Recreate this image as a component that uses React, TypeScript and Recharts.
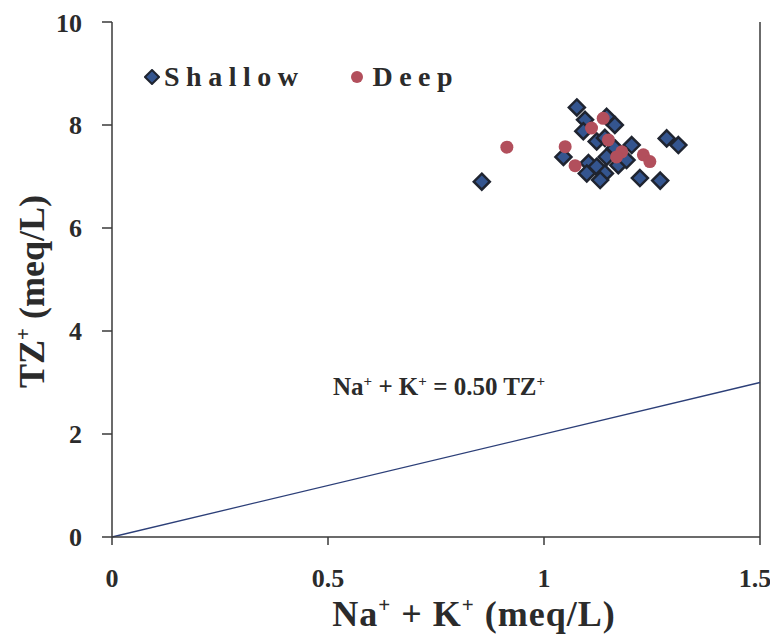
import {
  ScatterChart, Scatter, XAxis, YAxis, ReferenceLine,
} from 'recharts';

// Na+ + K+ (meq/L) vs TZ+ (meq/L)
const SHALLOW_X = [0.856, 1.076, 1.095, 1.091, 1.145, 1.164, 1.122, 1.141, 1.045, 1.164, 1.203, 1.284,
  1.311, 1.103, 1.122, 1.099, 1.141, 1.130, 1.145, 1.172, 1.191, 1.222, 1.269];
const SHALLOW_Y = [6.90, 8.34, 8.10, 7.88, 8.16, 8.00, 7.68, 7.75, 7.38, 7.55, 7.61, 7.74,
  7.61, 7.26, 7.19, 7.06, 7.06, 6.93, 7.38, 7.22, 7.32, 6.97, 6.92];

const DEEP_X = [0.914, 1.049, 1.072, 1.110, 1.137, 1.149, 1.180, 1.168, 1.230, 1.245];
const DEEP_Y = [7.57, 7.58, 7.21, 7.94, 8.13, 7.71, 7.48, 7.38, 7.42, 7.29];

const X_TICKS = [0, 0.5, 1, 1.5];
const Y_TICKS = [0, 2, 4, 6, 8, 10];

// Na+ + K+ = 0.50 TZ+  ->  TZ+ = (Na+ + K+) / 0.50
const RATIO = 0.5;
const LINE_X = [0, 1.5];

const shallow = SHALLOW_X.map((x, i) => ({ x, y: SHALLOW_Y[i] }));
const deep = DEEP_X.map((x, i) => ({ x, y: DEEP_Y[i] }));
const ratioLine = LINE_X.map(x => ({ x, y: x / RATIO }));

const FONT = '"Liberation Serif", "Times New Roman", serif';
const BLUE = '#34558f';
const RED = '#b24f5c';
const AXIS = '#3a3a3a';
const TEXT = '#2b2b2b';

const Diamond = (p: any) => {
  const { cx, cy } = p;
  const r = 8;
  return (
    <polygon
      points={`${cx},${cy - r} ${cx + r},${cy} ${cx},${cy + r} ${cx - r},${cy}`}
      fill={BLUE}
      stroke="#1f2430"
      strokeWidth={2.5}
    />
  );
};

const Dot = (p: any) => <circle cx={p.cx} cy={p.cy} r={6.5} fill={RED} />;

// x tick labels; the last one is pulled in a little so it stays on the page
const XTick = ({ x, y, payload, index }: any) => (
  <text
    x={x + (index === X_TICKS.length - 1 ? -5 : 0)}
    y={y}
    dy="0.71em"
    textAnchor="middle"
    fontFamily={FONT}
    fontWeight={700}
    fontSize={26}
    fill={TEXT}
  >
    {String(payload.value)}
  </text>
);

const XTitle = ({ viewBox }: any) => {
  const cx = viewBox.x + viewBox.width / 2 + 38;
  return (
    <text x={cx} y={viewBox.y + 89} textAnchor="middle" fontFamily={FONT} fontWeight={700} fontSize={36} letterSpacing={1} fill={TEXT}>
      Na<tspan fontSize={21} dy={-14}>+</tspan>
      <tspan dy={14}> + K</tspan><tspan fontSize={21} dy={-14}>+</tspan>
      <tspan dy={14}> (meq/L)</tspan>
    </text>
  );
};

const YTitle = ({ viewBox }: any) => {
  const cy = viewBox.y + viewBox.height / 2 + 12;
  const x = 36;
  return (
    <text x={x} y={cy} transform={`rotate(-90, ${x}, ${cy})`} textAnchor="middle" fontFamily={FONT} fontWeight={700} fontSize={36} fill={TEXT}>
      TZ<tspan fontSize={21} dy={-14}>+</tspan>
      <tspan dy={14}> (meq/L)</tspan>
    </text>
  );
};

const tickStyle = { fontFamily: FONT, fontWeight: 700, fontSize: 26, fill: TEXT };

export default function App() {
  return (
    <div style={{ position: 'relative', width: 770, height: 627 }}>
      <style>{'.recharts-surface { overflow: visible; }'}</style>
      <ScatterChart width={770} height={627} margin={{ top: 14, right: 18, bottom: 38, left: 44 }}>
        <XAxis
          type="number"
          dataKey="x"
          domain={[0, 1.5]}
          ticks={X_TICKS}
          tick={<XTick />}
          tickSize={8}
          tickMargin={24}
          height={60}
          stroke={AXIS}
          strokeWidth={1.5}
          label={<XTitle />}
        />
        <YAxis
          type="number"
          dataKey="y"
          domain={[0, 10]}
          ticks={Y_TICKS}
          tick={tickStyle}
          tickSize={10}
          tickMargin={20}
          width={60}
          stroke={AXIS}
          strokeWidth={1.5}
          label={<YTitle />}
        />
        <ReferenceLine x={1.5} stroke={AXIS} strokeWidth={1.5} />
        <ReferenceLine
          segment={[ratioLine[0], ratioLine[1]]}
          stroke="#2c3f78"
          strokeWidth={1.3}
        />
        <Scatter name="Shallow" data={shallow} shape={Diamond} isAnimationActive={false} />
        <Scatter name="Deep" data={deep} shape={Dot} isAnimationActive={false} />
      </ScatterChart>

      {/* legend */}
      <div style={{ position: 'absolute', left: 136, top: 53, display: 'flex', alignItems: 'center', fontFamily: FONT, fontWeight: 700, fontSize: 28, color: TEXT, letterSpacing: 6.5 }}>
        <svg width={16} height={16} style={{ marginRight: 4 }}>
          <polygon points="8,1 15,8 8,15 1,8" fill={BLUE} stroke="#1f2430" strokeWidth={2} />
        </svg>
        <span>Shallow</span>
        <svg width={14} height={14} style={{ marginLeft: 46, marginRight: 8 }}>
          <circle cx={7} cy={7} r={6} fill={RED} />
        </svg>
        <span>Deep</span>
      </div>

      <div style={{ position: 'absolute', left: 325, top: 364, lineHeight: '30px', fontFamily: FONT, fontWeight: 700, fontSize: 25, color: TEXT, whiteSpace: 'nowrap' }}>
        Na<sup style={{ fontSize: 15, lineHeight: 0 }}>+</sup> + K<sup style={{ fontSize: 15, lineHeight: 0 }}>+</sup> = 0.50 TZ<sup style={{ fontSize: 15, lineHeight: 0 }}>+</sup>
      </div>
    </div>
  );
}
